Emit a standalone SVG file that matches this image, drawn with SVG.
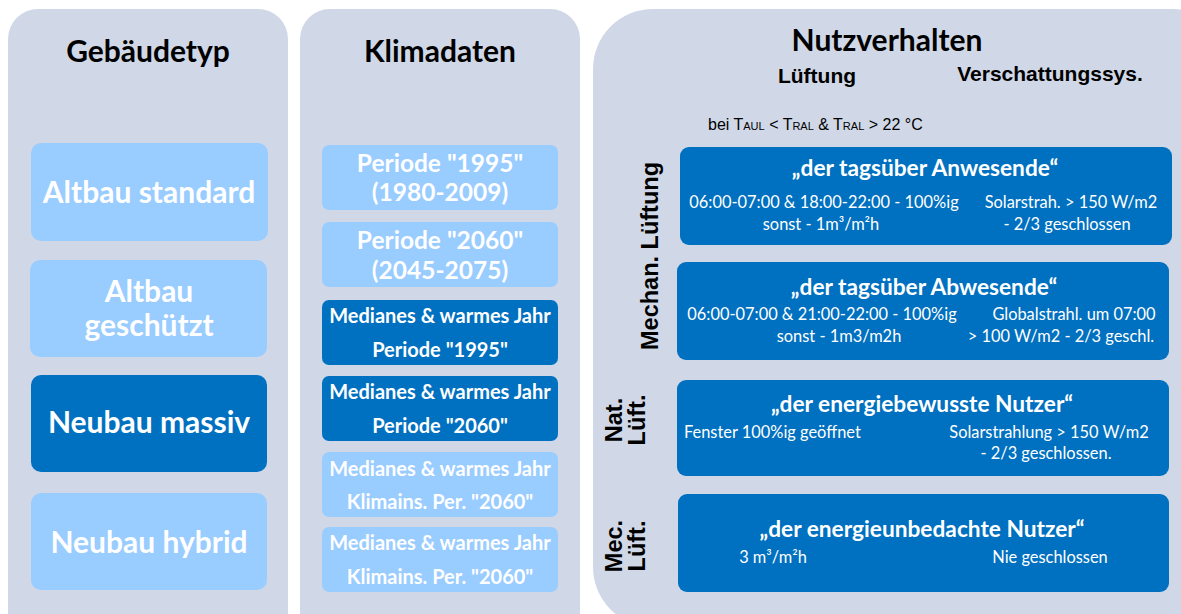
<svg xmlns="http://www.w3.org/2000/svg" width="1181" height="614" viewBox="0 0 1181 614">
<style>
.panel{fill:#D0D8E7}
.lb{fill:#99CCFF}
.db{fill:#0070C0}
.t{font-family:Lato,"Open Sans",sans-serif;font-weight:bold;fill:#fff;text-anchor:middle}
.h{font-family:Lato,"Open Sans",sans-serif;font-weight:bold;fill:#000;text-anchor:middle}
.a{font-family:"Liberation Sans",Arial,sans-serif;font-weight:bold;fill:#000;text-anchor:middle}
.n{font-family:Lato,"Open Sans",sans-serif;fill:#fff;font-size:16.4px;text-anchor:middle}
.ns{font-family:Lato,"Open Sans",sans-serif;fill:#fff;font-size:16.4px;text-anchor:start}
.big{font-size:30px}
.mid{font-size:24.5px}
.sm{font-size:20px}
.ti{font-size:22.7px}
</style>
<g id="panel-gebaeudetyp">
<rect class="panel" x="8" y="9" width="280" height="640" rx="30"/>
<text class="h" x="148" y="62" font-size="30">Gebäudetyp</text>
</g>
<g id="panel-klimadaten">
<rect class="panel" x="300" y="9" width="280" height="640" rx="30"/>
<text class="h" x="440" y="62" font-size="30">Klimadaten</text>
</g>
<g id="panel-nutzverhalten">
<rect class="panel" x="593" y="9" width="640" height="618" rx="60"/>
<text class="h" x="887" y="51" font-size="30">Nutzverhalten</text>
<text class="a" x="817" y="83" font-size="21">Lüftung</text>
<text class="a" x="1050" y="81" font-size="21">Verschattungssys.</text>
<text x="708" y="130" font-family="Liberation Sans,Arial,sans-serif" font-size="16" fill="#000">bei T<tspan font-size="11">AUL</tspan> &lt; T<tspan font-size="11">RAL</tspan> &amp; T<tspan font-size="11">RAL</tspan> &gt; 22 °C</text>
<text class="a" font-size="23.5" transform="translate(658,256) rotate(-90)">Mechan. Lüftung</text>
<text class="a" font-size="23.5" transform="translate(622,420) rotate(-90)">Nat.</text>
<text class="a" font-size="23.5" transform="translate(645,420) rotate(-90)">Lüft.</text>
<text class="a" font-size="23.5" transform="translate(622,546) rotate(-90)">Mec.</text>
<text class="a" font-size="23.5" transform="translate(645,546) rotate(-90)">Lüft.</text>
</g>
<g id="altbau-standard">
<rect class="lb" x="31" y="143" width="237" height="98" rx="10"/>
<text class="t big" x="149" y="203">Altbau standard</text>
</g>
<g id="altbau-geschuetzt">
<rect class="lb" x="30" y="260" width="237" height="97" rx="10"/>
<text class="t big" x="149" y="302">Altbau</text>
<text class="t big" x="149" y="336">geschützt</text>
</g>
<g id="neubau-massiv">
<rect class="db" x="31" y="375" width="236" height="97" rx="10"/>
<text class="t big" x="149" y="433">Neubau massiv</text>
</g>
<g id="neubau-hybrid">
<rect class="lb" x="31" y="493" width="236" height="97" rx="10"/>
<text class="t big" x="149" y="553">Neubau hybrid</text>
</g>
<g id="periode-1995">
<rect class="lb" x="322" y="145" width="236" height="65" rx="7"/>
<text class="t mid" x="440" y="172">Periode "1995"</text>
<text class="t mid" x="440" y="201">(1980-2009)</text>
</g>
<g id="periode-2060">
<rect class="lb" x="322" y="222" width="236" height="65" rx="7"/>
<text class="t mid" x="440" y="249">Periode "2060"</text>
<text class="t mid" x="440" y="279">(2045-2075)</text>
</g>
<g id="median-1995">
<rect class="db" x="322" y="300" width="236" height="65" rx="7"/>
<text class="t sm" x="440" y="323">Medianes &amp; warmes Jahr</text>
<text class="t sm" x="440" y="357">Periode "1995"</text>
</g>
<g id="median-2060">
<rect class="db" x="322" y="376" width="236" height="65" rx="7"/>
<text class="t sm" x="440" y="399">Medianes &amp; warmes Jahr</text>
<text class="t sm" x="440" y="433">Periode "2060"</text>
</g>
<g id="klimains-1">
<rect class="lb" x="322" y="452" width="236" height="65" rx="7"/>
<text class="t sm" x="440" y="476">Medianes &amp; warmes Jahr</text>
<text class="t sm" x="440" y="509">Klimains. Per. "2060"</text>
</g>
<g id="klimains-2">
<rect class="lb" x="322" y="527" width="236" height="65" rx="7"/>
<text class="t sm" x="440" y="550">Medianes &amp; warmes Jahr</text>
<text class="t sm" x="440" y="584">Klimains. Per. "2060"</text>
</g>
<g id="anwesende">
<rect class="db" x="680" y="147" width="492" height="98" rx="9"/>
<text class="t ti" x="925" y="176">„der tagsüber Anwesende“</text>
<text class="n" x="824" y="208">06:00-07:00 &amp; 18:00-22:00 - 100%ig</text>
<text class="n" x="1071" y="208">Solarstrah. &gt; 150 W/m2</text>
<text class="n" x="821" y="230">sonst - 1m³/m²h</text>
<text class="n" x="1067" y="230">- 2/3 geschlossen</text>
</g>
<g id="abwesende">
<rect class="db" x="677" y="262" width="492" height="98" rx="9"/>
<text class="t ti" x="924" y="295">„der tagsüber Abwesende“</text>
<text class="n" x="822" y="320">06:00-07:00 &amp; 21:00-22:00 - 100%ig</text>
<text class="n" x="1074" y="320">Globalstrahl. um 07:00</text>
<text class="n" x="839" y="342">sonst - 1m3/m2h</text>
<text class="n" x="1061" y="342">&gt; 100 W/m2  - 2/3 geschl.</text>
</g>
<g id="energiebewusst">
<rect class="db" x="677" y="380" width="492" height="96" rx="9"/>
<text class="t ti" x="922" y="412">„der energiebewusste Nutzer“</text>
<text class="ns" x="684" y="438">Fenster 100%ig geöffnet</text>
<text class="n" x="1049" y="438">Solarstrahlung &gt; 150 W/m2</text>
<text class="n" x="1046" y="459">- 2/3 geschlossen.</text>
</g>
<g id="energieunbedacht">
<rect class="db" x="678" y="494" width="491" height="98" rx="9"/>
<text class="t ti" x="922" y="537">„der energieunbedachte Nutzer“</text>
<text class="n" x="773" y="563">3 m³/m²h</text>
<text class="n" x="1050" y="563">Nie geschlossen</text>
</g>
<g id="connectors"></g>
</svg>
